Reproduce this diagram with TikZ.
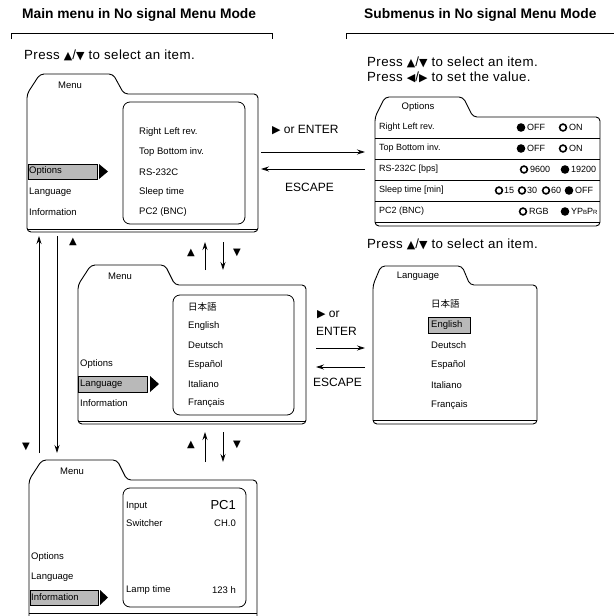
\documentclass[tikz,border=0pt]{standalone}
\usepackage{fontspec}
\setmainfont{Liberation Sans}
\newfontfamily\jpfont{Noto Sans CJK JP}
\newfontfamily\symf{DejaVu Sans}
\usetikzlibrary{arrows.meta}

\begin{document}
\begin{tikzpicture}[x=1pt,y=-1pt,
    win/.style={line width=0.9pt,rounded corners=4pt},
    listbox/.style={line width=0.8pt,rounded corners=7pt},
    item/.style={anchor=west,inner sep=0pt,font=\fontsize{9.5}{11}\selectfont},
    rowtxt/.style={anchor=west,inner sep=0pt,font=\fontsize{9}{11}\selectfont},
    tablbl/.style={inner sep=0pt,font=\fontsize{9.5}{11}\selectfont},
    press/.style={anchor=west,inner sep=0pt,font=\fontsize{13.3}{15}\selectfont\addfontfeature{LetterSpace=3}},
    keylbl/.style={anchor=west,inner sep=0pt,font=\fontsize{12}{14}\selectfont},
    title/.style={anchor=west,inner sep=0pt,font=\bfseries\fontsize{13.8}{15}\selectfont},
    hilite/.style={draw,line width=0.7pt,fill=gray!55},
    radon/.style={fill=black},
    radoff/.style={draw,line width=1.6pt},
    arr/.style={line width=0.8pt,-{Stealth[length=8pt,width=5pt]}},
    tri/.style={inner sep=0pt,font=\symf\fontsize{10}{10}\selectfont}]

    \useasboundingbox (0,0) rectangle (614,616);
    \clip (0,0) rectangle (614,616);

    % Headings with their brackets
    \node[title] (ttlMain) at (22,15) {Main menu in No signal Menu Mode};
    \node[title] (ttlSub) at (364,15) {Submenus in No signal Menu Mode};
    \draw[line width=0.8pt] (11,39) -- (11,33) -- (272,33) -- (272,39);
    \draw[line width=0.8pt] (346,39) -- (346,33) -- (614,33);

    \node[press] (pressMain) at (24,55) {Press {\symf\fontsize{11}{11}\selectfont▲}/{\symf\fontsize{11}{11}\selectfont▼} to select an item.};
    \node[press] (pressOpt1) at (367,62) {Press {\symf\fontsize{11}{11}\selectfont▲}/{\symf\fontsize{11}{11}\selectfont▼} to select an item.};
    \node[press] (pressOpt2) at (367,77) {Press {\symf\fontsize{11}{11}\selectfont◀}/{\symf\fontsize{11}{11}\selectfont▶} to set the value.};
    \node[press] (pressLang) at (367,244) {Press {\symf\fontsize{11}{11}\selectfont▲}/{\symf\fontsize{11}{11}\selectfont▼} to select an item.};

    % Main menu, Options selected
    \draw[win] (27,160) -- (27,94) -- (40,74) -- (113,74) -- (124,94) -- (258,94) -- (258,232) -- (27,232) -- cycle;
    \draw[line width=0.6pt] (27,229) -- (258,229);
    \node[tablbl] (tabA) at (70,85) {Menu};
    \draw[listbox] (123,102) rectangle (245,224);
    \node[item] (aRL) at (139,132) {Right Left rev.};
    \node[item] (aTB) at (139,152) {Top Bottom inv.};
    \node[item] (aRS) at (139,172) {RS-232C};
    \node[item] (aSl) at (139,192) {Sleep time};
    \node[item] (aPC) at (139,212) {PC2 (BNC)};
    \draw[hilite] (28,164) rectangle (97,179);
    \fill (99,164) -- (108,171.5) -- (99,179) -- cycle;
    \node[item] (aOpt) at (29,171.5) {Options};
    \node[item] (aLang) at (29,192) {Language};
    \node[item] (aInfo) at (29,212) {Information};

    % Main menu, Language selected
    \draw[win] (78,350) -- (78,285) -- (91,265) -- (165,265) -- (175,285) -- (306,285) -- (306,424) -- (78,424) -- cycle;
    \draw[line width=0.6pt] (78,421) -- (306,421);
    \node[tablbl] (tabB) at (120,276) {Menu};
    \draw[listbox] (173,295) rectangle (294,415);
    \node[item] (bJa) at (188,307) {\jpfont 日本語};
    \node[item] (bEn) at (188,326) {English};
    \node[item] (bDe) at (188,345) {Deutsch};
    \node[item] (bEs) at (188,365) {Español};
    \node[item] (bIt) at (188,384) {Italiano};
    \node[item] (bFr) at (188,403) {Français};
    \draw[hilite] (78,376) rectangle (147,392);
    \fill (150,376) -- (159,384) -- (150,392) -- cycle;
    \node[item] (bOpt) at (80,364) {Options};
    \node[item] (bLang) at (80,384) {Language};
    \node[item] (bInfo) at (80,403) {Information};

    % Main menu, Information selected
    \draw[win] (29,650) -- (29,480) -- (42,460) -- (117,460) -- (127,480) -- (257,480) -- (257,650);
    \draw[line width=0.6pt] (29,613) -- (257,613);
    \node[tablbl] (tabC) at (72,471) {Menu};
    \draw[listbox] (123,488) rectangle (246,607);
    \node[item] (cIn) at (126,506) {Input};
    \node[anchor=east,inner sep=0pt,font=\fontsize{13}{15}\selectfont] (cPC) at (236,505) {PC1};
    \node[item] (cSw) at (126,523) {Switcher};
    \node[item,anchor=east] (cCH) at (236,523) {CH.0};
    \node[item] (cLamp) at (126,590) {Lamp time};
    \node[item,anchor=east] (cHrs) at (236,590) {123 h};
    \draw[hilite] (30,590) rectangle (98,605);
    \fill (100,590) -- (108,597.5) -- (100,605) -- cycle;
    \node[item] (cOpt) at (31,557) {Options};
    \node[item] (cLang) at (31,577) {Language};
    \node[item] (cInfo) at (31,597.5) {Information};

    % Options submenu
    \draw[win] (375,170) -- (375,117) -- (385,97) -- (463,97) -- (473,117) -- (600,117) -- (600,226) -- (375,226) -- cycle;
    \draw[line width=0.6pt] (375,138) -- (600,138);
    \draw[line width=0.6pt] (375,159) -- (600,159);
    \draw[line width=0.6pt] (375,180) -- (600,180);
    \draw[line width=0.6pt] (375,201) -- (600,201);
    \draw[line width=0.6pt] (375,222) -- (600,222);
    \node[tablbl] (tabD) at (418,107.5) {Options};
    \node[rowtxt] (dRL) at (379,127.5) {Right Left rev.};
    \node[rowtxt] (dTB) at (379,148.5) {Top Bottom inv.};
    \node[rowtxt] (dRS) at (379,169.5) {RS-232C [bps]};
    \node[rowtxt] (dSl) at (379,190.5) {Sleep time [min]};
    \node[rowtxt] (dPC) at (379,211.5) {PC2 (BNC)};
    % radio buttons
    \fill[radon] (521,127.5) circle (4.3);  \node[rowtxt] (dRLoff) at (527,127.5) {OFF};
    \draw[radoff] (563,127.5) circle (3.4); \node[rowtxt] (dRLon) at (569,127.5) {ON};
    \fill[radon] (521,148.5) circle (4.3);  \node[rowtxt] (dTBoff) at (527,148.5) {OFF};
    \draw[radoff] (563,148.5) circle (3.4); \node[rowtxt] (dTBon) at (569,148.5) {ON};
    \draw[radoff] (524,169.5) circle (3.4); \node[rowtxt] (dRSa) at (530,169.5) {9600};
    \fill[radon] (565,169.5) circle (4.3);  \node[rowtxt] (dRSb) at (571,169.5) {19200};
    \draw[radoff] (499,190.5) circle (3.4); \node[rowtxt] (dSla) at (504,190.5) {15};
    \draw[radoff] (522,190.5) circle (3.4); \node[rowtxt] (dSlb) at (527,190.5) {30};
    \draw[radoff] (546,190.5) circle (3.4); \node[rowtxt] (dSlc) at (551,190.5) {60};
    \fill[radon] (569,190.5) circle (4.3);  \node[rowtxt] (dSld) at (575,190.5) {OFF};
    \draw[radoff] (523,211.5) circle (3.4); \node[rowtxt] (dPCa) at (529,211.5) {RGB};
    \fill[radon] (565,211.5) circle (4.3);  \node[rowtxt] (dPCb) at (571,211.5) {YP{\fontsize{6}{6}\selectfont B}P{\fontsize{6}{6}\selectfont R}};

    % Language submenu
    \draw[win] (373,350) -- (373,285) -- (381,266) -- (462,266) -- (470,285) -- (537,285) -- (537,424) -- (373,424) -- cycle;
    \draw[line width=0.6pt] (373,420) -- (537,420);
    \node[tablbl] (tabE) at (418,276) {Language};
    \draw[hilite] (428,317) rectangle (470,333);
    \node[item] (eJa) at (431,304) {\jpfont 日本語};
    \node[item] (eEn) at (431,325) {English};
    \node[item] (eDe) at (431,345) {Deutsch};
    \node[item] (eEs) at (431,365) {Español};
    \node[item] (eIt) at (431,385) {Italiano};
    \node[item] (eFr) at (431,405) {Français};

    % Keys between main menu and submenus
    \node[keylbl] (keyEntA) at (272,130) {{\symf\fontsize{11}{11}\selectfont▶} or ENTER};
    \node[keylbl] (keyEscA) at (285,187) {ESCAPE};
    \coordinate (entA1) at (261,152); \coordinate (entA2) at (365,152);
    \coordinate (escA1) at (365,169); \coordinate (escA2) at (261,169);
    \draw[arr] (entA1) -- (entA2);
    \draw[arr] (escA1) -- (escA2);

    \node[keylbl] (keyEntB1) at (317,315) {{\symf\fontsize{11}{11}\selectfont▶} or};
    \node[keylbl] (keyEntB2) at (316,331) {ENTER};
    \node[keylbl] (keyEscB) at (313,382) {ESCAPE};
    \coordinate (entB1) at (316,348); \coordinate (entB2) at (365,348);
    \coordinate (escB1) at (365,367); \coordinate (escB2) at (316,367);
    \draw[arr] (entB1) -- (entB2);
    \draw[arr] (escB1) -- (escB2);

    % Up/down between the main menus
    \coordinate (ab1) at (205,270); \coordinate (ab2) at (205,242);
    \coordinate (ab3) at (223,242); \coordinate (ab4) at (223,270);
    \draw[arr] (ab1) -- (ab2);
    \draw[arr] (ab3) -- (ab4);
    \node[tri] (abUp) at (191,253) {▲};
    \node[tri] (abDn) at (237,253) {▼};

    \coordinate (bc1) at (205,462); \coordinate (bc2) at (205,432);
    \coordinate (bc3) at (223,432); \coordinate (bc4) at (223,462);
    \draw[arr] (bc1) -- (bc2);
    \draw[arr] (bc3) -- (bc4);
    \node[tri] (bcUp) at (191,445) {▲};
    \node[tri] (bcDn) at (237,445) {▼};

    \coordinate (ca1) at (39,453); \coordinate (ca2) at (39,236);
    \coordinate (ca3) at (57,236); \coordinate (ca4) at (57,453);
    \draw[arr] (ca1) -- (ca2);
    \draw[arr] (ca3) -- (ca4);
    \node[tri] (caUp) at (73,242) {▲};
    \node[tri] (caDn) at (26,447) {▼};
\end{tikzpicture}
\end{document}
